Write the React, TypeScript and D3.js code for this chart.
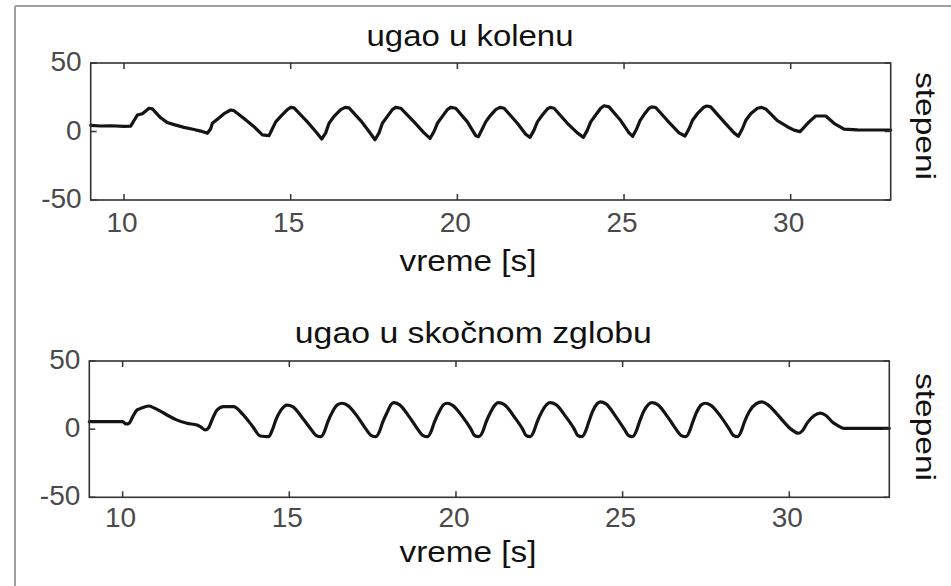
import React from "react";
import * as d3 from "d3";

const W = 951;
const H = 586;

const xTicks = [10, 15, 20, 25, 30];
const yTicks = [-50, 0, 50];
const xDomain = [9, 33];
const yDomain = [-50, 50];

const titles = ["ugao u kolenu", "ugao u skočnom zglobu"];
const xLabel = "vreme [s]";
const yLabel = "stepeni";

// knee angle (top panel)
const kneeTime = [
  9.0, 9.3, 9.6, 10.0, 10.2,
  10.3, 10.4, 10.55, 10.75, 10.85,
  11.1, 11.3, 11.5, 11.8, 12.1, 12.3, 12.5,
  12.6, 12.65, 12.8, 13.0, 13.2, 13.3,
  13.6, 13.9, 14.15, 14.35,
  14.45, 14.55, 14.7, 14.9, 15.0, 15.1,
  15.5, 15.75, 15.93,
  16.05, 16.15, 16.3, 16.5, 16.63, 16.75,
  17.1, 17.35, 17.53,
  17.65, 17.75, 17.9, 18.05, 18.15, 18.3,
  18.7, 19.0, 19.18,
  19.3, 19.4, 19.55, 19.7, 19.8, 19.95,
  20.3, 20.55, 20.63,
  20.75, 20.85, 21.0, 21.15, 21.28, 21.4,
  21.8, 22.05, 22.18,
  22.3, 22.4, 22.55, 22.7, 22.78, 22.9,
  23.3, 23.6, 23.78,
  23.9, 24.0, 24.15, 24.3, 24.4, 24.55,
  24.9, 25.15, 25.26,
  25.38, 25.48, 25.62, 25.75, 25.83, 25.95,
  26.3, 26.65, 26.83,
  26.95, 27.05, 27.2, 27.38, 27.48, 27.6,
  28.0, 28.3, 28.43,
  28.55, 28.65, 28.8, 29.0, 29.13, 29.25,
  29.6, 29.9, 30.1, 30.28,
  30.4, 30.55, 30.75, 31.05,
  31.3, 31.6, 32.0, 32.5, 33.0,
];
const kneeAngle = [
  4.5, 4.0, 4.2, 3.8, 3.9,
  8, 12, 13, 17, 16.5,
  10, 6.5, 5, 3, 1.5, 0.3, -1.3,
  2, 6, 9, 13, 15.7, 15.2,
  9.5, 3.5, -2.5, -3,
  2, 7, 11, 16, 17.6, 17.2,
  7, 0, -5.5,
  -1, 6, 11, 16, 17.6, 17.2,
  8, 0, -6,
  -1, 6, 11, 16, 17.6, 17,
  7, -1, -5,
  0, 6, 11, 16, 17.6, 17,
  7, -3, -3.8,
  2, 7, 12, 16, 17.6, 17,
  6, -2, -4.3,
  1, 7, 12, 16.5, 17.6, 17,
  6, -1, -4.3,
  1, 7, 12, 17, 18.8, 18,
  8, -1, -3.5,
  2, 8, 13, 17, 18, 17.5,
  8, -1, -3.3,
  2, 8, 13, 17.5, 18.6, 18,
  7, -1, -3.5,
  2, 8, 13, 17, 17.6, 16.5,
  8, 3.5, 1, -0.1,
  3, 7, 11.3, 11.3,
  6, 1.8, 1.2, 1.1, 1.1,
];

// ankle angle (bottom panel)
const ankleTime = [
  9.0, 9.5, 10.0, 10.1, 10.2, 10.3, 10.43, 10.55, 10.78, 10.95,
  11.33, 11.6, 11.93, 12.23, 12.35, 12.48, 12.58, 12.68, 12.83, 13.03, 13.33, 13.6, 13.9, 14.13, 14.38,
  14.5, 14.6, 14.75, 14.93, 15.1, 15.4, 15.65, 15.8, 15.95,
  16.05, 16.15, 16.3, 16.45, 16.58, 16.75, 17.05, 17.3, 17.45, 17.6,
  17.7, 17.8, 17.95, 18.05, 18.13, 18.3, 18.6, 18.85, 19.0, 19.15,
  19.25, 19.35, 19.5, 19.63, 19.73, 19.9, 20.2, 20.45, 20.55, 20.68,
  20.8, 20.9, 21.05, 21.18, 21.28, 21.45, 21.75, 22.0, 22.1, 22.23,
  22.33, 22.43, 22.58, 22.72, 22.83, 23.0, 23.3, 23.55, 23.65, 23.78,
  23.88, 23.98, 24.1, 24.23, 24.33, 24.5, 24.8, 25.05, 25.17, 25.3,
  25.4, 25.5, 25.63, 25.77, 25.88, 26.05, 26.35, 26.6, 26.75, 26.9,
  27.0, 27.1, 27.23, 27.37, 27.48, 27.65, 27.95, 28.2, 28.32, 28.45,
  28.55, 28.65, 28.8, 29.0, 29.18, 29.35, 29.6, 29.83, 30.05, 30.28,
  30.4, 30.55, 30.75, 30.93, 31.1, 31.3, 31.43, 31.63, 32.0, 33.0,
];
const ankleAngle = [
  5.5, 5.5, 5.5, 3.8, 4.5, 9, 14, 15.3, 17, 15.5,
  10.4, 7, 4.3, 3, 1.5, -0.6, 1, 6.7, 14, 16.5, 16.5, 11, 2, -5, -5.5,
  0, 7, 14, 17.7, 16.5, 8, 0, -4.5, -5.5,
  -2, 5, 13, 18, 19, 17.5, 9, 0, -4.5, -5.5,
  -2, 5, 13, 18, 19.4, 18, 9, 0, -4.5, -5.5,
  -2, 5, 13, 18, 19, 17.5, 9, 0, -4.5, -5.5,
  -2, 5, 13, 18, 19.4, 18, 9, 0, -4.5, -5.5,
  -2, 5, 13, 18, 19.4, 18, 9, 0, -4.5, -5.5,
  -2, 5, 13, 18.5, 20, 18.5, 9, 0, -4.5, -5.5,
  -2, 5, 13, 18, 19.4, 18, 9, 0, -4.5, -5.5,
  -2, 5, 13, 18, 19, 17.5, 9, 0, -4.5, -5.5,
  -2, 5, 13, 18.5, 20, 18, 12, 5.5, 0, -3,
  -1, 5, 10, 11.7, 10, 5, 3, 0.6, 0.6, 0.6,
];

const FONT = "'Liberation Sans', Arial, Helvetica, sans-serif";

type PanelProps = {
  time: number[];
  angle: number[];
  title: string;
  left: number;
  right: number;
  top: number;
  bottom: number;
  titleX: number;
  titleY: number;
  titleLen: number;
  tickY: number;
  xLabelY: number;
  yLabelY: number;
  smooth: boolean;
};

function Panel(p: PanelProps) {
  const x = d3.scaleLinear().domain(xDomain).range([p.left, p.right]);
  const y = d3.scaleLinear().domain(yDomain).range([p.bottom, p.top]);
  const pts = p.time.map((t, i) => [t, p.angle[i]] as [number, number]);
  const line = d3
    .line<[number, number]>()
    .x((d) => x(d[0]))
    .y((d) => y(d[1]))
    .curve(p.smooth ? d3.curveMonotoneX : d3.curveLinear);
  const tl = 6;
  return (
    <g>
      <text
        x={p.titleX}
        y={p.titleY}
        textAnchor="middle"
        fontFamily={FONT}
        fontSize={29}
        fill="#111"
        textLength={p.titleLen}
        lengthAdjust="spacingAndGlyphs"
      >
        {p.title}
      </text>
      <path
        d={line(pts) || ""}
        fill="none"
        stroke="#141414"
        strokeWidth={3.2}
        strokeLinejoin="round"
        strokeLinecap="round"
      />
      <rect
        x={p.left}
        y={p.top}
        width={p.right - p.left}
        height={p.bottom - p.top}
        fill="none"
        stroke="#333"
        strokeWidth={1.6}
      />
      {xTicks.map((t) => (
        <g key={"x" + t}>
          <line x1={x(t)} x2={x(t)} y1={p.bottom} y2={p.bottom - tl} stroke="#333" strokeWidth={1.5} />
          <line x1={x(t)} x2={x(t)} y1={p.top} y2={p.top + tl} stroke="#333" strokeWidth={1.5} />
          <text
            x={x(t) - 2}
            y={p.tickY}
            textAnchor="middle"
            fontFamily={FONT}
            fontSize={28}
            fill="#4a4a4a"
          >
            {t}
          </text>
        </g>
      ))}
      {yTicks.map((v) => (
        <g key={"y" + v}>
          <line x1={p.left} x2={p.left + tl} y1={y(v)} y2={y(v)} stroke="#333" strokeWidth={1.5} />
          <line x1={p.right} x2={p.right - tl} y1={y(v)} y2={y(v)} stroke="#333" strokeWidth={1.5} />
          <text
            x={p.left - 9}
            y={y(v) - 1.5}
            textAnchor="end"
            dominantBaseline="central"
            fontFamily={FONT}
            fontSize={28}
            fill="#4a4a4a"
          >
            {v}
          </text>
        </g>
      ))}
      <text
        x={468}
        y={p.xLabelY}
        textAnchor="middle"
        fontFamily={FONT}
        fontSize={29}
        fill="#111"
        textLength={137}
        lengthAdjust="spacingAndGlyphs"
      >
        {xLabel}
      </text>
      <text
        transform={`translate(915.5, ${p.yLabelY}) rotate(90)`}
        textAnchor="middle"
        fontFamily={FONT}
        fontSize={28}
        fill="#111"
        textLength={108}
        lengthAdjust="spacingAndGlyphs"
      >
        {yLabel}
      </text>
    </g>
  );
}

export default function App() {
  return (
    <svg
      width={W}
      height={H}
      viewBox={`0 0 ${W} ${H}`}
      style={{ position: "absolute", left: 0, top: 0, background: "#fff" }}
    >
      <rect x={0} y={0} width={W} height={H} fill="#fff" />
      <line x1={15} x2={15} y1={6} y2={H} stroke="#a0a0a0" strokeWidth={2} />
      <line x1={15} x2={W} y1={6} y2={6} stroke="#a0a0a0" strokeWidth={2} />
      <Panel
        time={kneeTime}
        angle={kneeAngle}
        title={titles[0]}
        left={90.7}
        right={890.7}
        top={63}
        bottom={200}
        titleX={470}
        titleY={46}
        titleLen={207}
        tickY={231.5}
        xLabelY={271}
        yLabelY={126}
        smooth={false}
      />
      <Panel
        time={ankleTime}
        angle={ankleAngle}
        title={titles[1]}
        left={89.3}
        right={889.3}
        top={361}
        bottom={497.3}
        titleX={473.3}
        titleY={343}
        titleLen={357}
        tickY={526.5}
        xLabelY={561.5}
        yLabelY={427}
        smooth={true}
      />
    </svg>
  );
}
